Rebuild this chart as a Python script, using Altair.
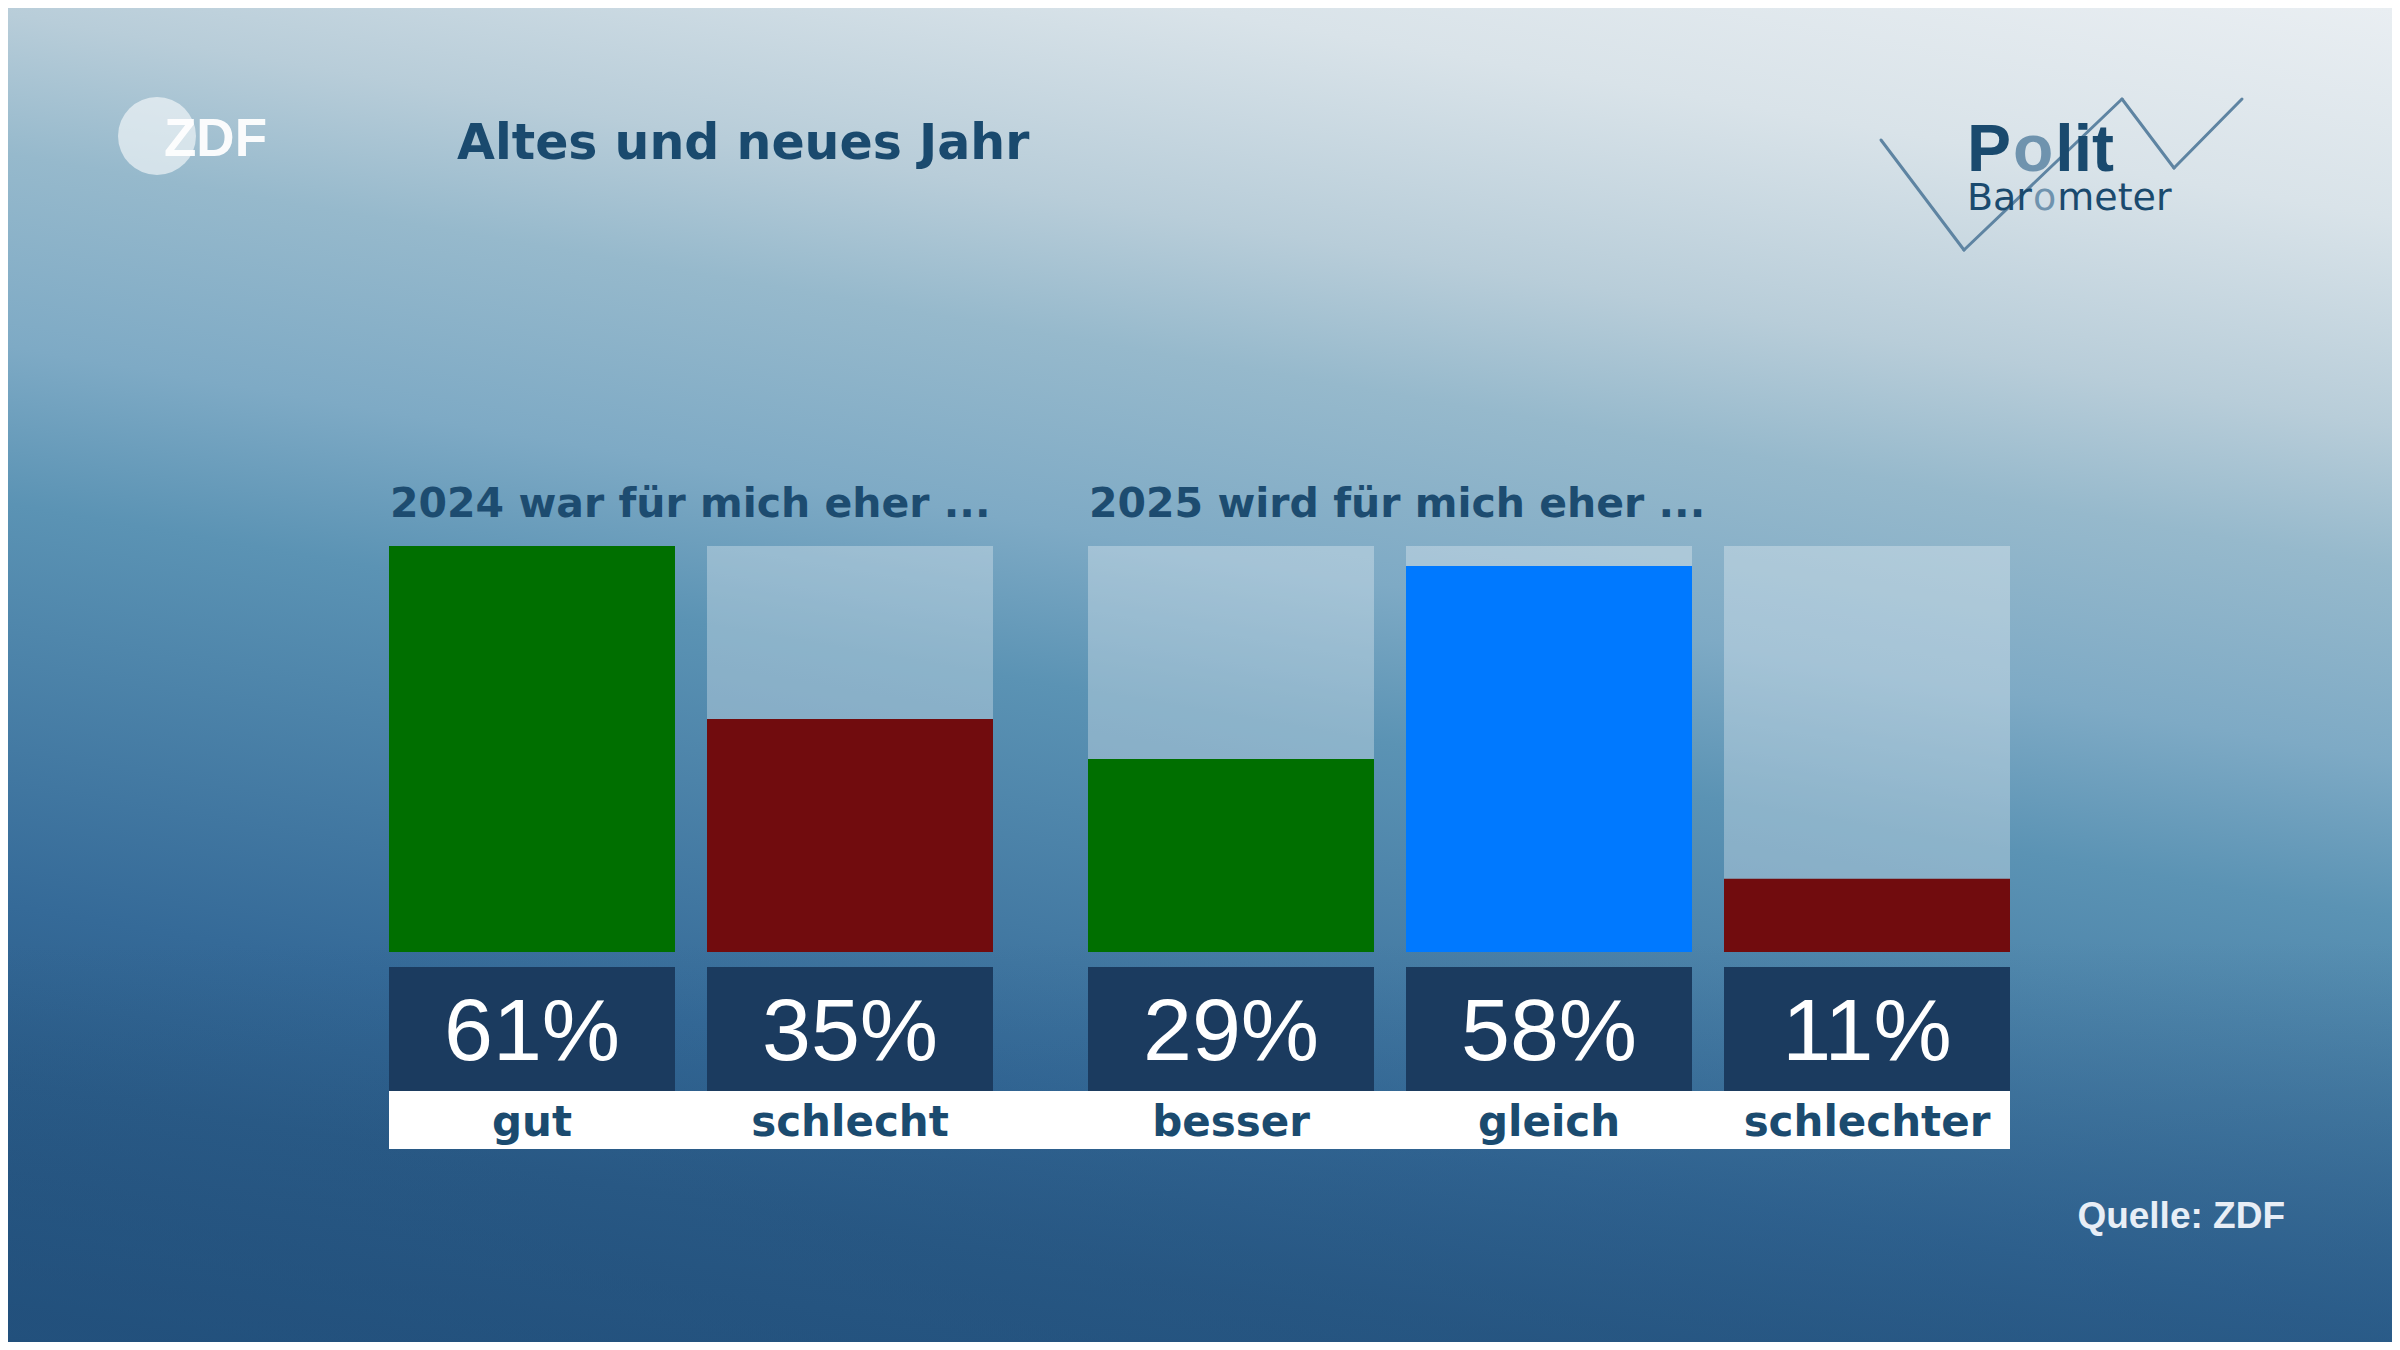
import altair as alt
import pandas as pd

# ---------------- data ----------------
groups = ["2024 war für mich eher ...", "2025 wird für mich eher ..."]
categories = ["gut", "schlecht", "besser", "gleich", "schlechter"]
category_group = [0, 0, 1, 1, 1]
values = [61, 35, 29, 58, 11]
bar_colors = ["#006f00", "#710c0e", "#006f00", "#0079ff", "#710c0e"]

title_text = "Altes und neues Jahr"
source_text = "Quelle: ZDF"

# ---------------- layout (pixels) ----------------
W, H = 2384, 1334
OFF = 8
BAR_LEFT = 389 - OFF
STEP = 318
BAR_W = 286
GROUP_GAP = 63
BASE_Y = 952 - OFF
TOP_Y = 546 - OFF

rows = []
for i, (cat, g, v) in enumerate(zip(categories, category_group, values)):
    slot = i + g * GROUP_GAP / STEP
    rows.append({
        "category": cat,
        "group_name": groups[g],
        "value": v,
        "label": f"{v}%",
        "slot": slot,
        "slot_end": slot + BAR_W / STEP,
        "mid": slot + BAR_W / STEP / 2,
    })
df = pd.DataFrame(rows)

vmax = max(values)
ppu = (BASE_Y - TOP_Y) / vmax
xs = alt.Scale(domain=[-BAR_LEFT / STEP, (W - BAR_LEFT) / STEP], nice=False, zero=False)
ys = alt.Scale(domain=[-(H - BASE_Y) / ppu, vmax + TOP_Y / ppu], nice=False, zero=False)

one = pd.DataFrame({"k": [0]})

# ---------------- background ----------------
bg = alt.Chart(one).mark_rect(
    fill=alt.Gradient(
        gradient="linear",
        x1=1, y1=0, x2=0.63, y2=1.195,
        stops=[
            alt.GradientStop(offset=0.0, color="#e9eef2"),
            alt.GradientStop(offset=0.12, color="#d9e3e9"),
            alt.GradientStop(offset=0.24, color="#b8cdd9"),
            alt.GradientStop(offset=0.32, color="#96b9cc"),
            alt.GradientStop(offset=0.43, color="#7eaac5"),
            alt.GradientStop(offset=0.52, color="#5b93b4"),
            alt.GradientStop(offset=0.75, color="#356a98"),
            alt.GradientStop(offset=0.85, color="#2b5c88"),
            alt.GradientStop(offset=1.0, color="#22507c"),
        ],
    )
).encode(x=alt.value(0), x2=alt.value(W), y=alt.value(0), y2=alt.value(H))

bg_dark = alt.Chart(one).mark_rect(
    fill=alt.Gradient(
        gradient="linear",
        x1=0, y1=0, x2=0, y2=1,
        stops=[
            alt.GradientStop(offset=0.0, color="rgba(34,80,124,0)"),
            alt.GradientStop(offset=0.70, color="rgba(34,80,124,0)"),
            alt.GradientStop(offset=1.0, color="rgba(34,80,124,0.55)"),
        ],
    )
).encode(x=alt.value(0), x2=alt.value(W), y=alt.value(0), y2=alt.value(H))

# ---------------- bars ----------------
base = alt.Chart(df)

bar_bg = base.transform_joinaggregate(vmax="max(value)").mark_rect(
    color="white", opacity=0.3
).encode(
    x=alt.X("slot:Q", scale=xs, axis=None),
    x2="slot_end:Q",
    y=alt.Y("vmax:Q", scale=ys, axis=None),
    y2=alt.datum(0),
)

bars = base.mark_rect().encode(
    x=alt.X("slot:Q", scale=xs, axis=None),
    x2="slot_end:Q",
    y=alt.Y("value:Q", scale=ys, axis=None),
    y2=alt.datum(0),
    color=alt.Color("category:N", scale=alt.Scale(domain=categories, range=bar_colors), legend=None),
)

value_box = base.mark_rect(color="#1b3b5f").encode(
    x=alt.X("slot:Q", scale=xs, axis=None),
    x2="slot_end:Q",
    y=alt.value(959),
    y2=alt.value(1083),
)

strip = base.transform_aggregate(
    xmin="min(slot)", xmax="max(slot_end)"
).mark_rect(color="white").encode(
    x=alt.X("xmin:Q", scale=xs, axis=None),
    x2="xmax:Q",
    y=alt.value(1083),
    y2=alt.value(1141),
)

value_text = base.mark_text(
    font="Liberation Sans", fontSize=88, color="white", baseline="alphabetic", align="center"
).encode(
    x=alt.X("mid:Q", scale=xs, axis=None),
    y=alt.value(1052),
    text="label:N",
)

label_text = base.mark_text(
    font="DejaVu Sans", fontWeight="bold", fontSize=42, color="#1b4b6f",
    baseline="alphabetic", align="center"
).encode(
    x=alt.X("mid:Q", scale=xs, axis=None),
    y=alt.value(1128),
    text="category:N",
)

header_text = base.transform_aggregate(
    xmin="min(slot)", groupby=["group_name"]
).mark_text(
    font="DejaVu Sans", fontWeight="bold", fontSize=41, color="#1d4c70",
    baseline="alphabetic", align="left", dx=1
).encode(
    x=alt.X("xmin:Q", scale=xs, axis=None),
    y=alt.value(509),
    text="group_name:N",
)

# ---------------- decorations ----------------
title = alt.Chart(one).mark_text(
    text=title_text, font="DejaVu Sans", fontWeight="bold", fontSize=49,
    color="#1a4a6e", align="left", baseline="alphabetic"
).encode(x=alt.value(449), y=alt.value(151))

source = alt.Chart(one).mark_text(
    text=source_text, font="Liberation Sans", fontWeight="bold", fontSize=37,
    color="#e8eef6", align="right", baseline="alphabetic"
).encode(x=alt.value(2277), y=alt.value(1220))

zdf_circle = alt.Chart(one).mark_circle(
    size=6082, color="white", opacity=0.58
).encode(x=alt.value(149), y=alt.value(128))

zdf_text = alt.Chart(one).mark_text(
    text="ZDF", font="Liberation Sans", fontWeight="bold", fontSize=53, color="white",
    align="left", baseline="alphabetic", opacity=0.95
).encode(x=alt.value(156), y=alt.value(148))

zig = [(1873, 132), (1956, 242), (2114, 91), (2166, 160), (2234, 91)]
zig_layers = []
for (xa, ya), (xb, yb) in zip(zig[:-1], zig[1:]):
    zig_layers.append(
        alt.Chart(one).mark_rule(stroke="#5e84a2", strokeWidth=3, strokeCap="round").encode(
            x=alt.value(xa), y=alt.value(ya), x2=alt.value(xb), y2=alt.value(yb)
        )
    )

dark = "#1a4a6e"
light = "#6f93ae"
polit_size = 66
p_x = 1959
polit = [
    ("P", p_x, dark),
    ("o", p_x + 0.667 * polit_size + 2, light),
    ("lit", p_x + (0.667 + 0.611) * polit_size + 4, dark),
]
logo_layers = []
for t, xx, col in polit:
    logo_layers.append(
        alt.Chart(one).mark_text(
            text=t, font="Liberation Sans", fontWeight="bold", fontSize=polit_size,
            color=col, align="left", baseline="alphabetic"
        ).encode(x=alt.value(xx), y=alt.value(163))
    )
baro_size = 38
baro = [
    ("Bar", p_x, dark),
    ("o", p_x + (0.686 + 0.613 + 0.411) * baro_size + 1, light),
    ("meter", p_x + (0.686 + 0.613 + 0.411 + 0.612) * baro_size + 2, dark),
]
for t, xx, col in baro:
    logo_layers.append(
        alt.Chart(one).mark_text(
            text=t, font="DejaVu Sans", fontSize=baro_size,
            color=col, align="left", baseline="alphabetic"
        ).encode(x=alt.value(xx), y=alt.value(202))
    )

chart = alt.layer(
    bg, bg_dark, bar_bg, bars, value_box, strip, value_text, label_text, header_text,
    title, source, zdf_circle, zdf_text, *zig_layers, *logo_layers
).properties(
    width=W, height=H,
    autosize=alt.AutoSizeParams(type="fit", contains="padding"),
    padding=0,
).configure_view(stroke=None)

chart.save("out.html", embed_options={"renderer": "svg", "actions": False})
